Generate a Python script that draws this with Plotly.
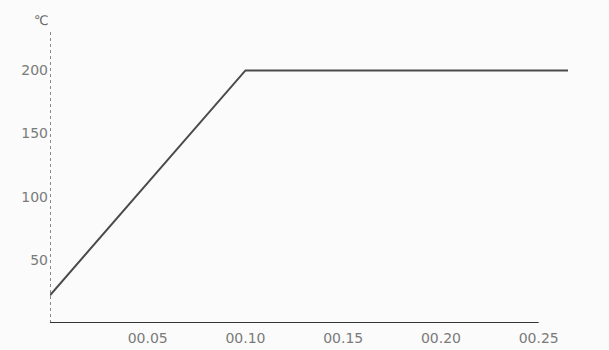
import plotly.graph_objects as go

# Heating profile: ramp from ambient up to 200 °C, then hold
time_min = [0.0, 0.10, 0.265]
temp_c = [22, 200, 200]

x_tick_vals = [0.05, 0.10, 0.15, 0.20, 0.25]
x_tick_text = ["00.05", "00.10", "00.15", "00.20", "00.25"]
y_tick_vals = [50, 100, 150, 200]
y_tick_text = ["50", "100", "150", "200"]

ink = "#4a4a4a"
label_col = "#7a7a7a"

fig = go.Figure()
fig.add_trace(go.Scatter(
    x=time_min, y=temp_c, mode="lines",
    line=dict(color=ink, width=2),
    hoverinfo="skip", showlegend=False,
))

# y axis drawn as a dotted rule, x axis as a solid rule ending at 00.25
fig.add_shape(type="line", xref="x", yref="paper", x0=0, x1=0, y0=0, y1=1,
              line=dict(color="#666666", width=1.5, dash="dot"))
fig.add_shape(type="line", xref="x", yref="y", x0=0, x1=0.25, y0=0, y1=0,
              line=dict(color="#333333", width=2))

fig.add_annotation(text="℃", xref="paper", yref="paper", x=0.002, y=1.0,
                   xanchor="right", yanchor="bottom", showarrow=False,
                   font=dict(size=13, color="#666666", family="DejaVu Sans"))

fig.update_layout(
    width=609, height=350,
    margin=dict(l=50, r=41, t=30, b=27),
    paper_bgcolor="#fbfbfb", plot_bgcolor="#fbfbfb",
    font=dict(family="DejaVu Sans", size=14, color=label_col),
    xaxis=dict(range=[0, 0.265], tickvals=x_tick_vals, ticktext=x_tick_text,
               showgrid=False, zeroline=False, showline=False, ticks="",
               ticklabelstandoff=5, automargin=False),
    yaxis=dict(range=[0, 232], tickvals=y_tick_vals, ticktext=y_tick_text,
               showgrid=False, zeroline=False, showline=False, ticks="",
               ticklabelstandoff=1, automargin=False),
)

fig.write_html("out.html")
